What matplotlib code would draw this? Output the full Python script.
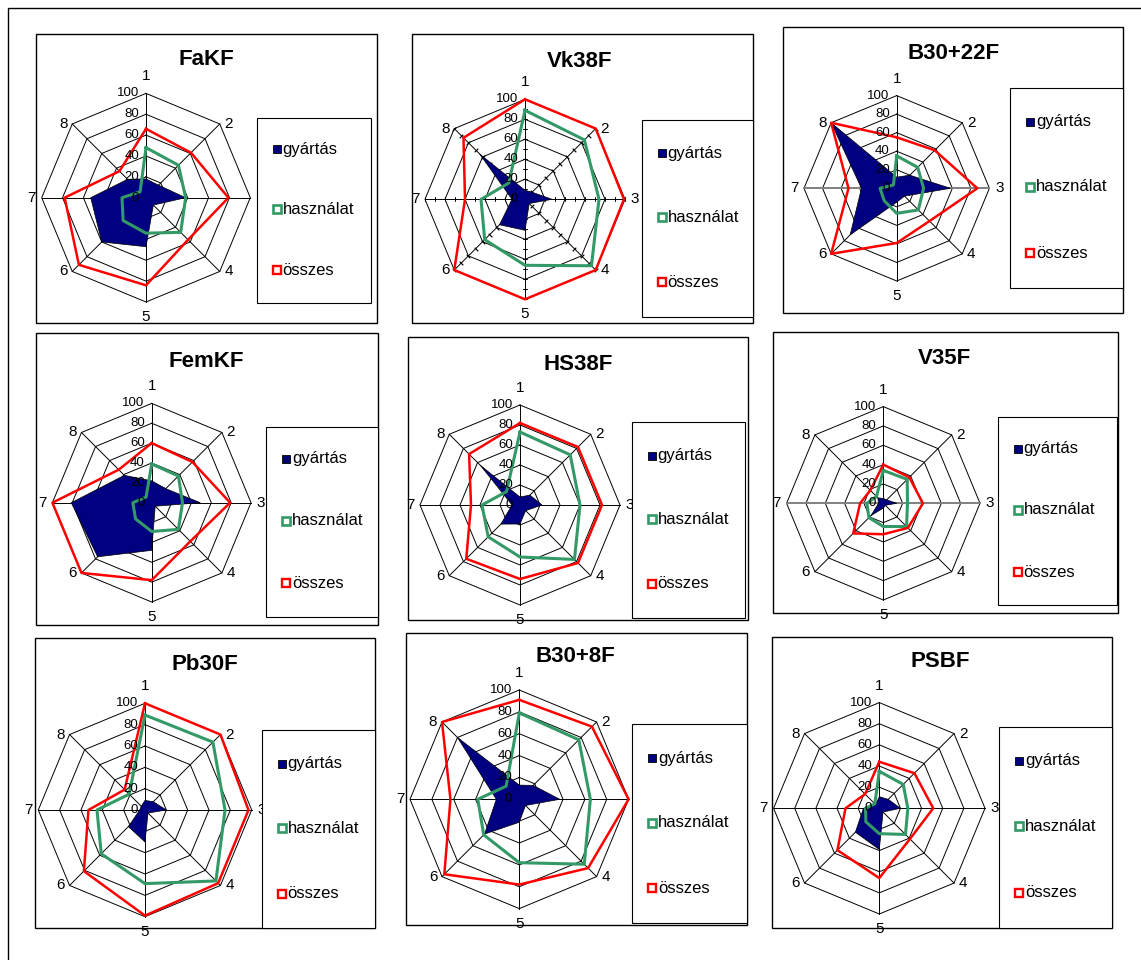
"""Nine radar charts (gyártás / használat / összes) laid out like the Excel sheet."""

import numpy as np
import matplotlib
matplotlib.use("Agg")
import matplotlib.pyplot as plt
from matplotlib.patches import Rectangle
from matplotlib.lines import Line2D

plt.rcParams["font.family"] = ["Liberation Sans", "DejaVu Sans"]

W, H = 1141, 960

AXIS_LABELS = ["1", "2", "3", "4", "5", "6", "7", "8"]
RING_VALUES = [0, 20, 40, 60, 80, 100]
SERIES_NAMES = ["gyártás", "használat", "összes"]

# values per axis 1..8
FAKF_GY = [18, 17, 38, 10, 47, 60, 53, 25]
FAKF_HA = [48, 44, 38, 47, 34, 31, 23, 8]
FAKF_OS = [66, 61, 79, 57, 84, 91, 78, 36]

VK38F_GY = [9, 10, 27, 6, 31, 36, 13, 64]
VK38F_HA = [89, 84, 74, 94, 66, 57, 44, 23]
VK38F_OS = [100, 100, 99, 100, 100, 100, 60, 87]

B3022F_GY = [12, 20, 58, 12, 15, 71, 38, 100]
B3022F_HA = [35, 32, 29, 33, 27, 19, 18, 5]
B3022F_OS = [55, 58, 87, 50, 59, 100, 52, 100]

FEMKF_GY = [22, 20, 49, 5, 48, 77, 81, 39]
FEMKF_HA = [39, 38, 31, 38, 29, 23, 19, 8]
FEMKF_OS = [60, 58, 79, 55, 78, 100, 100, 47]

HS38F_GY = [8, 14, 22, 8, 19, 27, 8, 56]
HS38F_HA = [73, 71, 60, 77, 52, 45, 38, 19]
HS38F_OS = [82, 82, 82, 82, 74, 76, 49, 72]

V35F_GY = [5, 5, 14, 3, 5, 18, 5, 8]
V35F_HA = [34, 35, 25, 34, 24, 21, 17, 10]
V35F_OS = [40, 38, 41, 36, 32, 44, 24, 19]

PB30F_GY = [9, 11, 20, 4, 30, 22, 5, 5]
PB30F_HA = [89, 90, 75, 94, 69, 58, 45, 21]
PB30F_OS = [100, 100, 97, 97, 99, 81, 53, 27]

B308F_GY = [13, 18, 37, 8, 21, 45, 21, 80]
B308F_HA = [79, 77, 65, 84, 58, 46, 38, 17]
B308F_OS = [91, 94, 100, 89, 78, 97, 63, 100]

PSBF_GY = [11, 12, 20, 5, 39, 32, 15, 5]
PSBF_HA = [35, 32, 27, 35, 24, 18, 13, 6]
PSBF_OS = [44, 47, 51, 41, 66, 56, 32, 19]

PANELS = [
    ("FaKF", FAKF_GY, FAKF_HA, FAKF_OS),
    ("Vk38F", VK38F_GY, VK38F_HA, VK38F_OS),
    ("B30+22F", B3022F_GY, B3022F_HA, B3022F_OS),
    ("FemKF", FEMKF_GY, FEMKF_HA, FEMKF_OS),
    ("HS38F", HS38F_GY, HS38F_HA, HS38F_OS),
    ("V35F", V35F_GY, V35F_HA, V35F_OS),
    ("Pb30F", PB30F_GY, PB30F_HA, PB30F_OS),
    ("B30+8F", B308F_GY, B308F_HA, B308F_OS),
    ("PSBF", PSBF_GY, PSBF_HA, PSBF_OS),
]

# pixel layout: radar centre, radius, panel frame, legend frame, title centre
LAYOUT = [
    dict(c=(146, 197.7), r=104.3, box=(36, 34, 377.3, 322.7), leg=(256.7, 118, 371, 302.7), t=(206.7, 59.3)),
    dict(c=(525, 199.3), r=100, box=(411.7, 34, 753.3, 323.3), leg=(641.7, 120, 753.3, 316.7), t=(580, 61.7), ticks=True),
    dict(c=(896.7, 188.3), r=92.7, box=(782.7, 27, 1123.3, 312.7), leg=(1010, 87.7, 1123.3, 288.3), t=(953.3, 53.3), gray=True),
    dict(c=(151.7, 502.7), r=99.3, box=(36, 333.3, 378, 625), leg=(266, 426.7, 378, 616.7), t=(206.7, 361.7)),
    dict(c=(520, 505), r=100, box=(408.3, 336.7, 748.3, 620), leg=(631.7, 422.3, 745, 618.3), t=(578, 365)),
    dict(c=(883.3, 503.3), r=96.7, box=(772.7, 331.7, 1117.7, 613), leg=(997.7, 416.7, 1116.7, 605), t=(944.7, 358.3), gray=True),
    dict(c=(145, 810), r=106.7, box=(35, 638, 375, 928), leg=(261.7, 730, 375, 928.3), t=(205, 665)),
    dict(c=(519.3, 799.3), r=109.3, box=(406, 633.3, 747, 925), leg=(632.3, 724.3, 746.7, 923.3), t=(575.7, 656.7)),
    dict(c=(879.3, 808.3), r=105.7, box=(771.7, 636.7, 1111.7, 927.7), leg=(999.3, 726.7, 1111.7, 927.7), t=(940, 661.7)),
]

NAVY = "#000080"
GREEN = "#339966"
RED = "#ff0000"


def fig_rect(fig, box, **kw):
    x0, y0, x1, y1 = box
    rect = Rectangle((x0 / W, 1 - y1 / H), (x1 - x0) / W, (y1 - y0) / H,
                     transform=fig.transFigure, **kw)
    fig.add_artist(rect)


def draw_panel(fig, title, gy, ha, os_, lay):
    fig_rect(fig, lay["box"], facecolor="white", edgecolor="black", lw=1.0, zorder=-1)

    cx, cy = lay["c"]
    R = lay["r"]
    ax = fig.add_axes([(cx - R) / W, 1 - (cy + R) / H, 2 * R / W, 2 * R / H], projection="polar")
    ax.set_theta_zero_location("N")
    ax.set_theta_direction(-1)
    ax.set_ylim(0, 100)
    ax.axis("off")

    angles = np.arange(len(AXIS_LABELS)) * 2 * np.pi / len(AXIS_LABELS)
    closed = np.append(angles, angles[0])

    for rv in RING_VALUES[1:]:
        ax.plot(closed, [rv] * len(closed), color="black", lw=0.7, clip_on=False, zorder=1)
    for i, a in enumerate(angles):
        col, lw = "black", 0.7
        if lay.get("gray") and i in (2, 6):
            col, lw = "#808080", 1.4
        ax.plot([a, a], [0, 100], color=col, lw=lw, clip_on=False, zorder=1)
        if lay.get("ticks"):
            ax.plot([a] * 10, np.arange(10, 101, 10), ls="none",
                    marker=(2, 2, 90 - np.degrees(a)), ms=3.5, mec="black", mew=0.6,
                    clip_on=False, zorder=1)

    ax.fill(closed, np.append(gy, gy[0]), facecolor=NAVY, edgecolor="black", lw=0.5,
            clip_on=False, zorder=2)
    ax.plot(closed, np.append(ha, ha[0]), color=GREEN, lw=2.2, clip_on=False, zorder=3)
    ax.plot(closed, np.append(os_, os_[0]), color=RED, lw=1.8, clip_on=False, zorder=4)

    offsets = [(0, 17), (9, 0), (10, 0), (9, 0), (0, -15), (-9, 0), (-10, 0), (-9, 0)]
    for a, lab, off in zip(angles, AXIS_LABELS, offsets):
        ax.annotate(lab, xy=(a, 100), xytext=off, textcoords="offset pixels",
                    ha="center", va="center", fontsize=11, annotation_clip=False, zorder=5)
    for rv in RING_VALUES:
        ax.annotate(str(rv), xy=(0, rv), xytext=(-7, 0), textcoords="offset pixels",
                    ha="right", va="center", fontsize=9.5, annotation_clip=False, zorder=5)

    tx, ty = lay["t"]
    fig.text(tx / W, 1 - ty / H, title, ha="center", va="center",
             fontsize=16, fontweight="bold", zorder=6)

    # legend box
    lx0, ly0, lx1, ly1 = lay["leg"]
    fig_rect(fig, lay["leg"], facecolor="white", edgecolor="black", lw=0.8, zorder=6)
    styles = [
        dict(mfc=NAVY, mec="black", mew=0.6),
        dict(mfc="white", mec=GREEN, mew=1.9),
        dict(mfc="white", mec=RED, mew=1.7),
    ]
    for frac, name, st in zip([0.17, 0.495, 0.825], SERIES_NAMES, styles):
        yy = 1 - (ly0 + frac * (ly1 - ly0)) / H
        fig.add_artist(Line2D([(lx0 + 20) / W], [yy], transform=fig.transFigure,
                              marker="s", ms=6, ls="none", zorder=7, **st))
        fig.text((lx0 + 26) / W, yy, name, ha="left", va="center",
                 fontsize=12, zorder=7)


def main() -> None:
    fig = plt.figure(figsize=(W / 100, H / 100), dpi=100)
    fig_rect(fig, (7.5, 8, W + 10, H + 10), facecolor="none", edgecolor="black", lw=1.0, zorder=-2)
    for (title, gy, ha, os_), lay in zip(PANELS, LAYOUT):
        draw_panel(fig, title, gy, ha, os_, lay)
    fig.savefig("out.png", dpi=100)


if __name__ == "__main__":
    main()
